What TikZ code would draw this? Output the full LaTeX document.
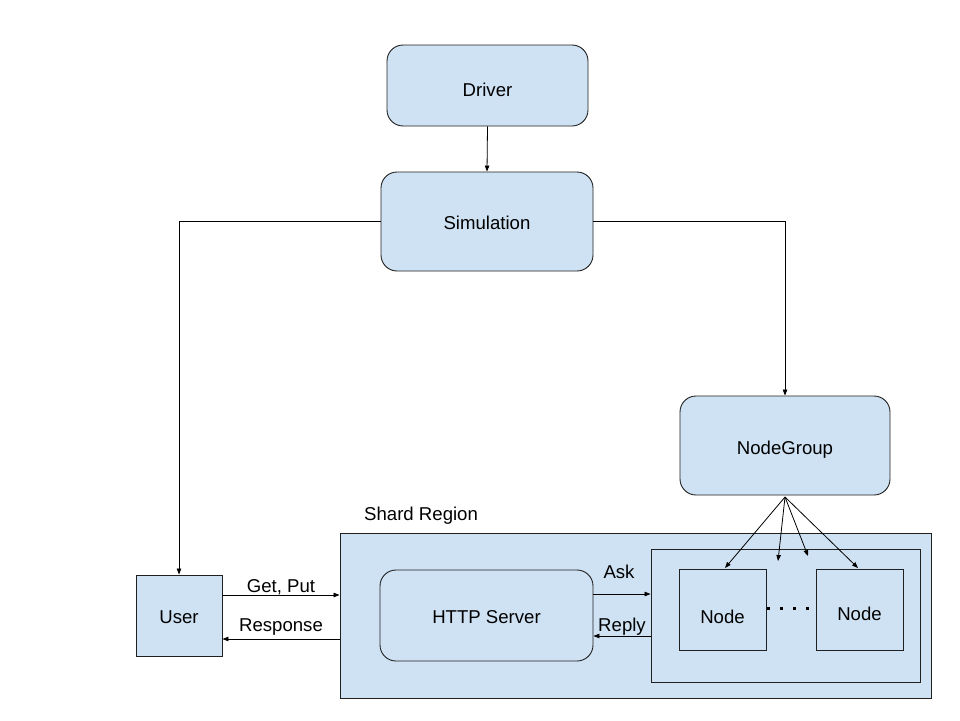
\documentclass[tikz,border=0pt]{standalone}
\usepackage{fontspec}
\setmainfont{Liberation Sans}
\usetikzlibrary{arrows.meta}
\definecolor{boxfill}{HTML}{CFE2F3}
\definecolor{edge}{HTML}{202020}
\newcommand{\lowerby}[2]{\raisebox{-#1}[\height][\depth]{#2}}
\begin{document}
\begin{tikzpicture}[x=1pt,y=-1pt,
  every node/.style={font=\fontsize{18.6}{21}\selectfont},
  rbox/.style={draw=edge,fill=boxfill,line width=0.9pt,rounded corners=16pt,inner sep=0pt},
  sbox/.style={draw=edge,fill=boxfill,line width=0.9pt,inner sep=0pt},
  conn/.style={draw=black,line width=0.8pt,-{Triangle[length=6pt,width=4.5pt]}},
  lbl/.style={inner sep=0pt}]
\useasboundingbox (0,0) rectangle (960,720);
\fill[white] (0,0) rectangle (960,720);
% boxes
\node[rbox,minimum width=201pt,minimum height=81pt] (driver) at (487.5,85.5) {\lowerby{4pt}{Driver}};
\node[rbox,minimum width=212pt,minimum height=99pt] (sim) at (487,221.5) {\lowerby{1pt}{Simulation}};
\node[rbox,minimum width=210pt,minimum height=99pt] (ng) at (785,445.5) {\lowerby{4pt}{NodeGroup}};
\node[sbox,minimum width=591pt,minimum height=165pt] (shard) at (635.5,615.5) {};
\node[lbl,anchor=west] (shardlbl) at (364,516) {Shard Region};
\node[rbox,minimum width=213pt,minimum height=91pt] (http) at (486.5,615.5) {\lowerby{2pt}{HTTP Server}};
\node[sbox,minimum width=269pt,minimum height=133pt] (inner) at (785.5,615.5) {};
\node[sbox,minimum width=87pt,minimum height=81pt] (n1) at (722.5,609.5) {\lowerby{7pt}{Node}};
\node[sbox,minimum width=87pt,minimum height=81pt] (n2) at (859.5,609.5) {\lowerby{4pt}{Node}};
\node[sbox,minimum width=86pt,minimum height=81pt] (user) at (179,615.5) {\lowerby{2pt}{User}};
% dots
\foreach \dx in {768,781,794,807} \fill[black] (\dx-1.5,606.5) rectangle (\dx+1.5,609.5);
% coordinates
\coordinate (ngB) at (785,497);
\coordinate (t1) at (725,568);
\coordinate (t2) at (778,561);
\coordinate (t3) at (808,556);
\coordinate (t4) at (858,568);
% connectors
\draw[conn] (driver.south) -- (sim.north);
\draw[conn] (sim.west) -| (user.north);
\draw[conn] (sim.east) -| (ng.north);
\draw[conn] (ngB) -- (t1);
\draw[conn] (ngB) -- (t2);
\draw[conn] (ngB) -- (t3);
\draw[conn] (ngB) -- (t4);
\draw[conn] (user.east |- 0,595) -- (shard.west |- 0,595) node[lbl,midway,above=0pt] {Get, Put};
\draw[conn] (shard.west |- 0,639) -- (user.east |- 0,639) node[lbl,midway,above=3pt] {Response};
\draw[conn] (http.east |- 0,594) -- (inner.west |- 0,594) node[lbl,midway,above=15pt,xshift=-3pt] {Ask};
\draw[conn] (inner.west |- 0,636) -- (http.east |- 0,636) node[lbl,midway,above=0pt] {Reply};
\end{tikzpicture}
\end{document}
